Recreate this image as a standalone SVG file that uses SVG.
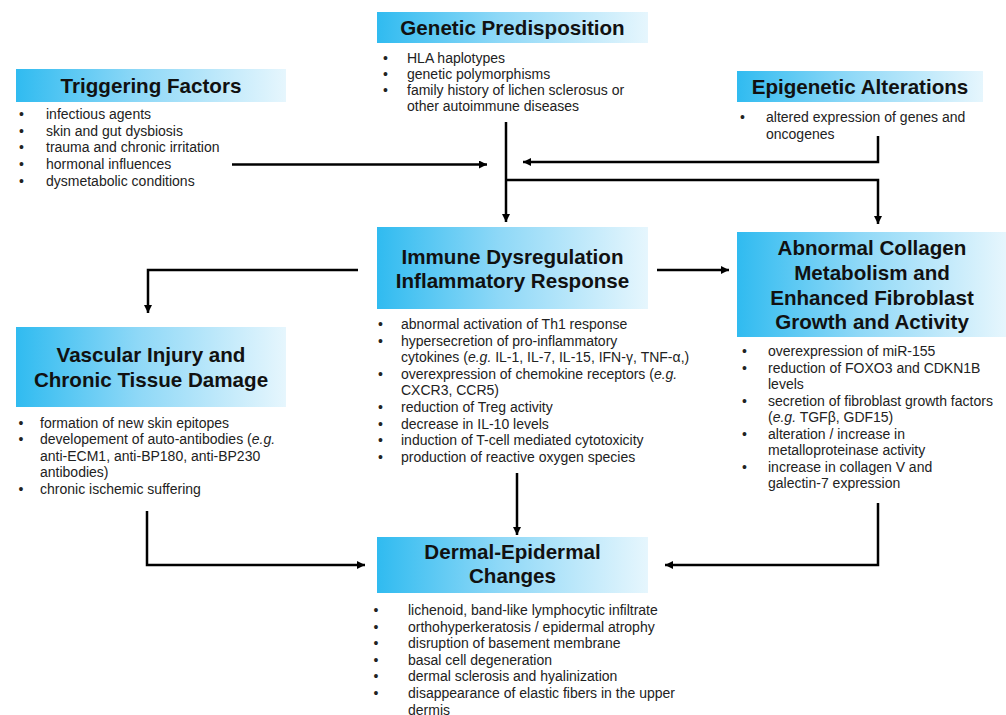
<svg xmlns="http://www.w3.org/2000/svg" width="1006" height="715" viewBox="0 0 1006 715">
<defs>
<linearGradient id="hg" x1="0" y1="0" x2="1" y2="0">
<stop offset="0" stop-color="#30bbf0"/>
<stop offset="0.45" stop-color="#8ed8f7"/>
<stop offset="1" stop-color="#e6f6fd"/>
</linearGradient>
<marker id="ah" markerUnits="userSpaceOnUse" markerWidth="9" markerHeight="9" refX="8" refY="4" orient="auto">
<path d="M0,0 L8,4 L0,8 z" fill="#000"/>
</marker>
<style>
.hdr{fill:url(#hg);}
.ttl{font-family:"Liberation Sans",Arial,sans-serif;font-weight:bold;font-size:20.6px;fill:#111;text-anchor:middle;}
.txt{font-family:"Liberation Sans",Arial,sans-serif;font-size:14px;fill:#222;}
.con{fill:none;stroke:#000;stroke-width:2.5;}
</style>
</defs>
<rect width="1006" height="715" fill="#fff"/>

<g id="triggering">
<rect class="hdr" x="16" y="69" width="270" height="33"/>
<text class="ttl" x="151" y="93">Triggering Factors</text>
<g class="txt">
<text x="19" y="119">•</text><text x="46" y="119">infectious agents</text>
<text x="19" y="135.7">•</text><text x="46" y="135.7">skin and gut dysbiosis</text>
<text x="19" y="152.4">•</text><text x="46" y="152.4">trauma and chronic irritation</text>
<text x="19" y="169.1">•</text><text x="46" y="169.1">hormonal  influences</text>
<text x="19" y="185.8">•</text><text x="46" y="185.8">dysmetabolic  conditions</text>
</g>
</g>

<g id="genetic">
<rect class="hdr" x="377" y="12" width="271" height="31"/>
<text class="ttl" x="512.5" y="35">Genetic Predisposition</text>
<g class="txt">
<text x="383" y="62.5">•</text><text x="407" y="62.5">HLA haplotypes</text>
<text x="383" y="78.7">•</text><text x="407" y="78.7">genetic polymorphisms</text>
<text x="383" y="94.9">•</text><text x="407" y="94.9">family history of lichen sclerosus or</text>
<text x="407" y="111">other autoimmune  diseases</text>
</g>
</g>

<g id="epigenetic">
<rect class="hdr" x="737" y="71" width="246" height="31"/>
<text class="ttl" x="860" y="94">Epigenetic Alterations</text>
<g class="txt">
<text x="740" y="122">•</text><text x="766" y="122">altered expression of genes and</text>
<text x="766" y="138.5">oncogenes</text>
</g>
</g>

<g id="immune">
<rect class="hdr" x="377" y="227" width="271" height="82"/>
<text class="ttl" x="512.5" y="264">Immune Dysregulation</text>
<text class="ttl" x="512.5" y="288">Inflammatory Response</text>
<g class="txt">
<text x="378" y="329">•</text><text x="401" y="329">abnormal  activation of Th1  response</text>
<text x="378" y="345.6">•</text><text x="401" y="345.6">hypersecretion of pro-inflammatory</text>
<text x="401" y="362.2">cytokines (<tspan font-style="italic">e.g.</tspan> IL-1, IL-7, IL-15, IFN-γ, TNF-α,)</text>
<text x="378" y="378.8">•</text><text x="401" y="378.8">overexpression of chemokine  receptors (<tspan font-style="italic">e.g.</tspan></text>
<text x="401" y="395.4">CXCR3, CCR5)</text>
<text x="378" y="412">•</text><text x="401" y="412">reduction of Treg activity</text>
<text x="378" y="428.6">•</text><text x="401" y="428.6">decrease in IL-10 levels</text>
<text x="378" y="445.2">•</text><text x="401" y="445.2">induction of T-cell mediated  cytotoxicity</text>
<text x="378" y="461.8">•</text><text x="401" y="461.8">production of reactive oxygen species</text>
</g>
</g>

<g id="collagen">
<rect class="hdr" x="737" y="232" width="269" height="105"/>
<text class="ttl" x="872" y="255">Abnormal Collagen</text>
<text class="ttl" x="872" y="280">Metabolism and</text>
<text class="ttl" x="872" y="305">Enhanced Fibroblast</text>
<text class="ttl" x="872" y="329">Growth and Activity</text>
<g class="txt">
<text x="742" y="356">•</text><text x="768" y="356">overexpression of miR-155</text>
<text x="742" y="372.5">•</text><text x="768" y="372.5">reduction of FOXO3 and CDKN1B</text>
<text x="768" y="389">levels</text>
<text x="742" y="405.5">•</text><text x="768" y="405.5">secretion of fibroblast growth factors</text>
<text x="768" y="422">(<tspan font-style="italic">e.g.</tspan> TGFβ, GDF15)</text>
<text x="742" y="438.5">•</text><text x="768" y="438.5">alteration / increase in</text>
<text x="768" y="455">metalloproteinase  activity</text>
<text x="742" y="471.5">•</text><text x="768" y="471.5">increase in collagen V and</text>
<text x="768" y="488">galectin-7 expression</text>
</g>
</g>

<g id="vascular">
<rect class="hdr" x="16" y="327" width="270" height="80"/>
<text class="ttl" x="151" y="362">Vascular Injury and</text>
<text class="ttl" x="151" y="387">Chronic Tissue Damage</text>
<g class="txt">
<text x="18.5" y="427.5">•</text><text x="40" y="427.5">formation of new skin epitopes</text>
<text x="18.5" y="444">•</text><text x="40" y="444">developement  of auto-antibodies (<tspan font-style="italic">e.g.</tspan></text>
<text x="40" y="460.5">anti-ECM1, anti-BP180, anti-BP230</text>
<text x="40" y="477">antibodies)</text>
<text x="18.5" y="493.5">•</text><text x="40" y="493.5">chronic ischemic suffering</text>
</g>
</g>

<g id="dermal">
<rect class="hdr" x="377" y="537" width="271" height="56"/>
<text class="ttl" x="512.5" y="559">Dermal-Epidermal</text>
<text class="ttl" x="512.5" y="583">Changes</text>
<g class="txt">
<text x="373.5" y="615">•</text><text x="408" y="615">lichenoid, band-like lymphocytic infiltrate</text>
<text x="373.5" y="631.6">•</text><text x="408" y="631.6">orthohyperkeratosis / epidermal  atrophy</text>
<text x="373.5" y="648.2">•</text><text x="408" y="648.2">disruption of basement membrane</text>
<text x="373.5" y="664.8">•</text><text x="408" y="664.8">basal cell degeneration</text>
<text x="373.5" y="681.4">•</text><text x="408" y="681.4">dermal  sclerosis and hyalinization</text>
<text x="373.5" y="698">•</text><text x="408" y="698">disappearance of elastic fibers in the upper</text>
<text x="408" y="714.6">dermis</text>
</g>
</g>

<g id="connectors">
<path class="con" d="M232,164.5 H487" marker-end="url(#ah)"/>
<path class="con" d="M506,122 V222" marker-end="url(#ah)"/>
<path class="con" d="M878,136 V162 H523" marker-end="url(#ah)"/>
<path class="con" d="M506,180 H878 V224" marker-end="url(#ah)"/>
<path class="con" d="M657,270 H729" marker-end="url(#ah)"/>
<path class="con" d="M358,270 H148 V313" marker-end="url(#ah)"/>
<path class="con" d="M517,473 V535" marker-end="url(#ah)"/>
<path class="con" d="M147,511 V565 H365" marker-end="url(#ah)"/>
<path class="con" d="M878,503 V565 H665" marker-end="url(#ah)"/>
</g>
</svg>
